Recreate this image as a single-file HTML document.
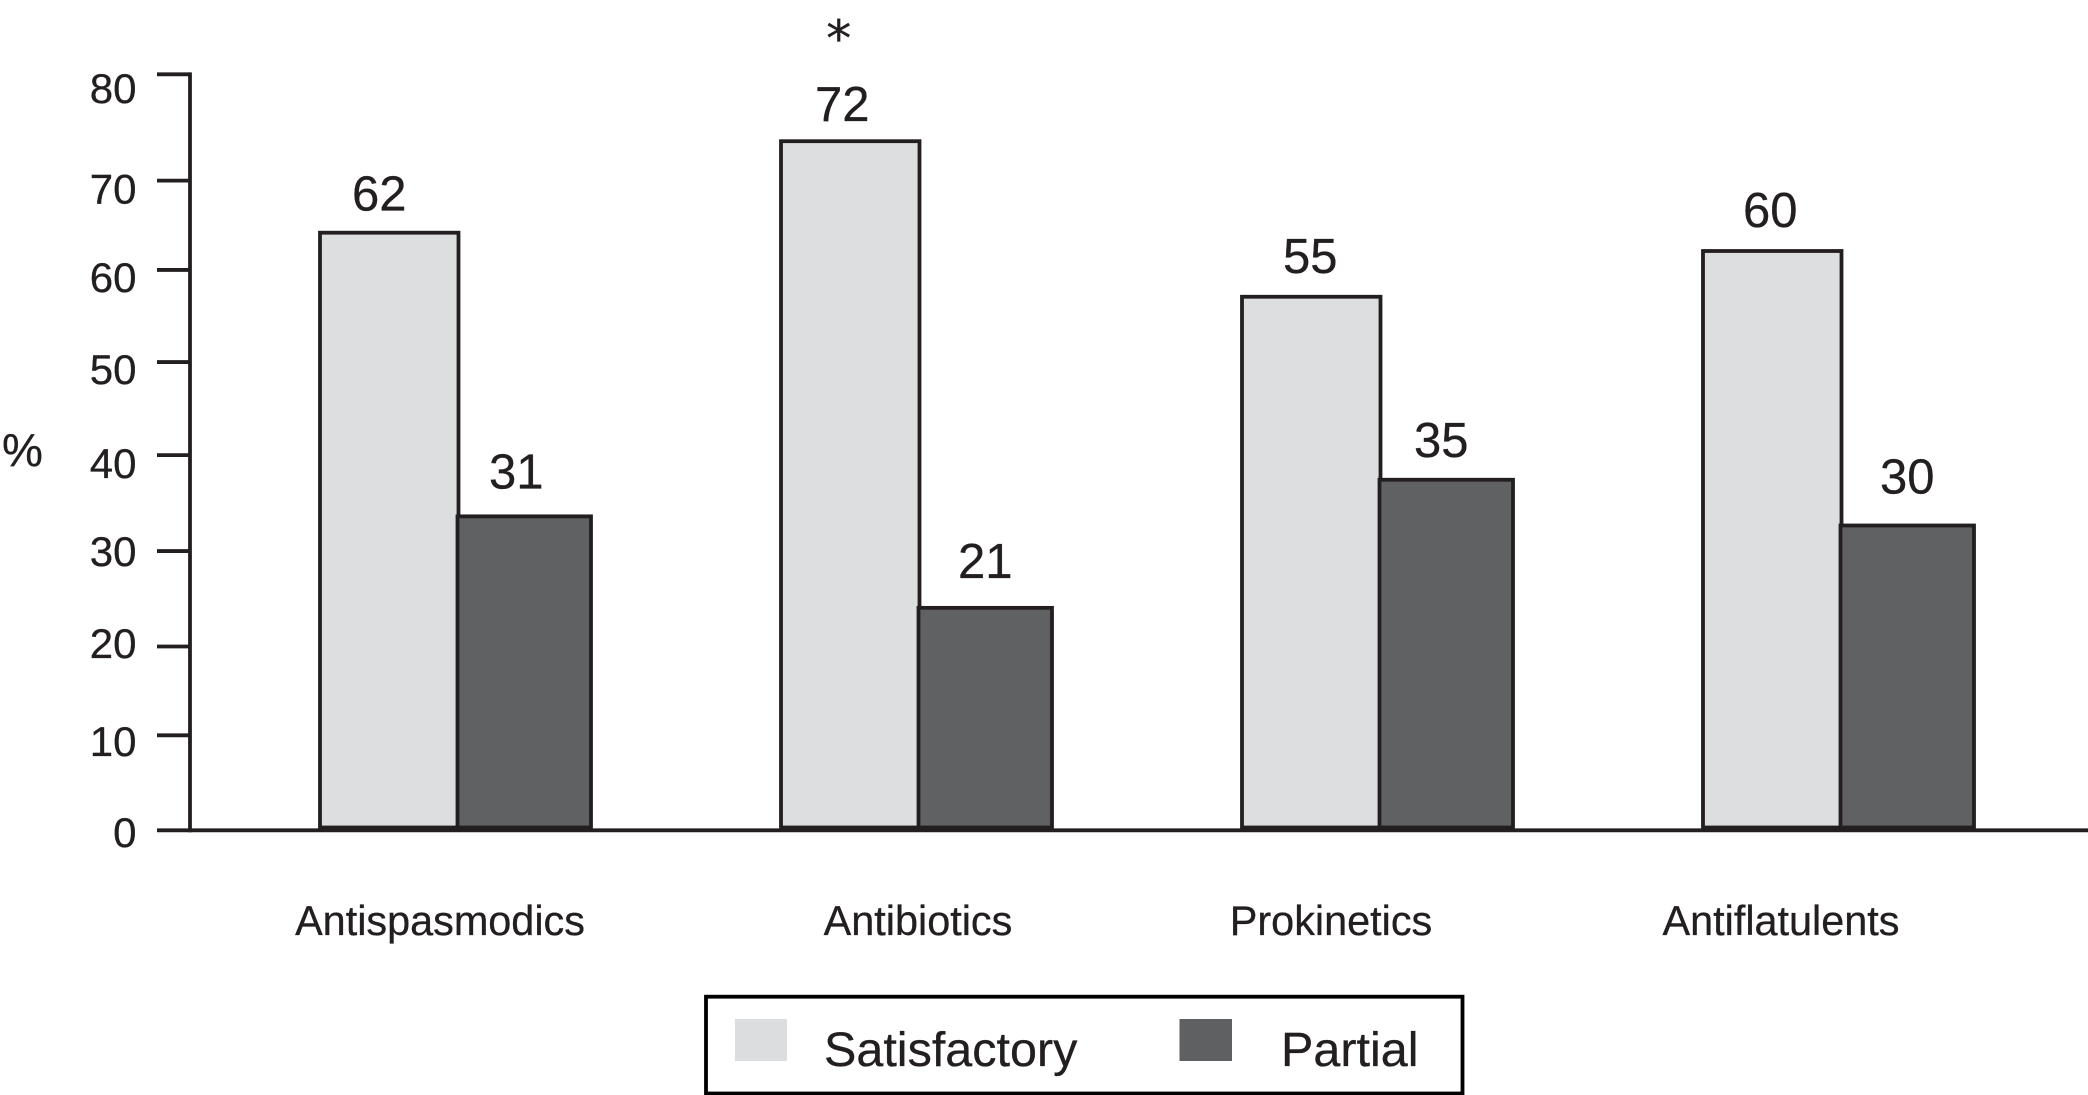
<!DOCTYPE html>
<html lang="en">
<head>
<meta charset="utf-8">
<title>Treatment response by drug class</title>
<style>
  html, body { margin: 0; padding: 0; background: #fff; }
  svg { display: block; }
  text { font-family: "Liberation Sans", Arial, sans-serif; fill: #231f20; stroke: #231f20; stroke-width: 0.3px; }
</style>
</head>
<body>
<svg id="chart" xmlns="http://www.w3.org/2000/svg" width="2088" height="1095" viewBox="0 0 2088 1095">
  <text x="2" y="466" font-size="46">%</text>
  <text x="838.7" y="56" font-size="50" text-anchor="middle" style="font-family:'DejaVu Sans',sans-serif">*</text>
  <g>
    <rect x="706" y="996.7" width="756.5" height="96.8" fill="#fff" stroke="#000" stroke-width="3.8"/>
    <rect x="735" y="1019" width="52" height="42" fill="#dcddde"/>
    <text x="824" y="1066" font-size="48.5">Satisfactory</text>
    <rect x="1179.5" y="1019" width="52.5" height="42" fill="#5f6062"/>
    <text x="1281" y="1066" font-size="48.5">Partial</text>
  </g>
</svg>
<script>
// ---- chart data ----
const categories = ['Antispasmodics', 'Antibiotics', 'Prokinetics', 'Antiflatulents'];
const satisfactoryValues = [62, 72, 55, 60];
const partialValues = [31, 21, 35, 30];
const tickLabels = [0, 10, 20, 30, 40, 50, 60, 70, 80];
// where each printed tick mark and tick label sit, read in axis units (the original axis is hand-spaced)
const tickReadings = [0, 10.05, 19.45, 29.55, 39.7, 49.55, 59.3, 68.75, 80];
const tickLabelReadings = [0, 9.8, 20.3, 30.2, 39.7, 49.8, 59.7, 69.2, 80];

// ---- layout constants and axis functions ----
const INK = '#231f20';
const SVG_NS = 'http://www.w3.org/2000/svg';
const chart = document.getElementById('chart');
const axisX = 190, baselineY = 830.3, barBottom = 827.5;
const tickScale = v => baselineY - 9.45 * v;
const tickLabelY = v => 847 - 9.3 * v;
const barTop = v => 800 - 9.15 * v;
const groupX = i => 320 + 461 * i;
const satWidth = 138.5, partialWidth = 133.5, partialStart = 137.5;
const categoryNudge = [-15, 2, -46, -57];
const satLabelNudgeX = [-5, -3, 4, 3];
const partialLabelNudgeX = [-4, 4, -1, 4];
const satLabelGap = [22, 20, 24, 24];
const partialLabelGap = [28, 30, 23, 32];

function make(tag, attrs, text) {
  const node = document.createElementNS(SVG_NS, tag);
  for (const k in attrs) node.setAttribute(k, attrs[k]);
  if (text !== undefined) node.textContent = text;
  chart.appendChild(node);
  return node;
}

// bars
categories.forEach((cat, i) => {
  const x = groupX(i);
  const sat = make('rect', { x: x, y: barTop(satisfactoryValues[i]), width: satWidth, height: barBottom - barTop(satisfactoryValues[i]), fill: '#dcdee0', stroke: INK, 'stroke-width': 3.8 });
  
  
  const par = make('rect', { x: x + partialStart, y: barTop(partialValues[i]), width: partialWidth, height: barBottom - barTop(partialValues[i]), fill: '#5f6163', stroke: INK, 'stroke-width': 3.8 });
  
  

  const satLabel = make('text', { x: x + satWidth / 2 - 5 + satLabelNudgeX[i], y: barTop(satisfactoryValues[i]) - satLabelGap[i], 'font-size': 49, 'text-anchor': 'middle' }, String(satisfactoryValues[i]));
  
  
  const parLabel = make('text', { x: x + partialStart + partialWidth / 2 - 4 + partialLabelNudgeX[i], y: barTop(partialValues[i]) - partialLabelGap[i], 'font-size': 49, 'text-anchor': 'middle' }, String(partialValues[i]));
  
  

  const catLabel = make('text', { x: x + 135 + categoryNudge[i], y: 935, 'font-size': 41.4, 'text-anchor': 'middle' }, cat);
  
  
});

// axes
const yAxis = make('line', { x1: axisX, x2: axisX, y1: tickScale(80) - 1.9, y2: baselineY + 1.9, stroke: INK, 'stroke-width': 3.8 });


const xAxis = make('line', { x1: 157, x2: 2088, y1: baselineY, y2: baselineY, stroke: INK, 'stroke-width': 3.8 });



tickLabels.forEach((v, i) => {
  if (v !== 0) {
    const t = make('line', { x1: 157, x2: axisX, y1: tickScale(tickReadings[i]), y2: tickScale(tickReadings[i]), stroke: INK, 'stroke-width': 3.8 });
    
    
  }
  const l = make('text', { x: 136.5, y: tickLabelY(tickLabelReadings[i]), 'font-size': 42, 'text-anchor': 'end' }, String(v));
  
  
});
</script>
</body>
</html>
